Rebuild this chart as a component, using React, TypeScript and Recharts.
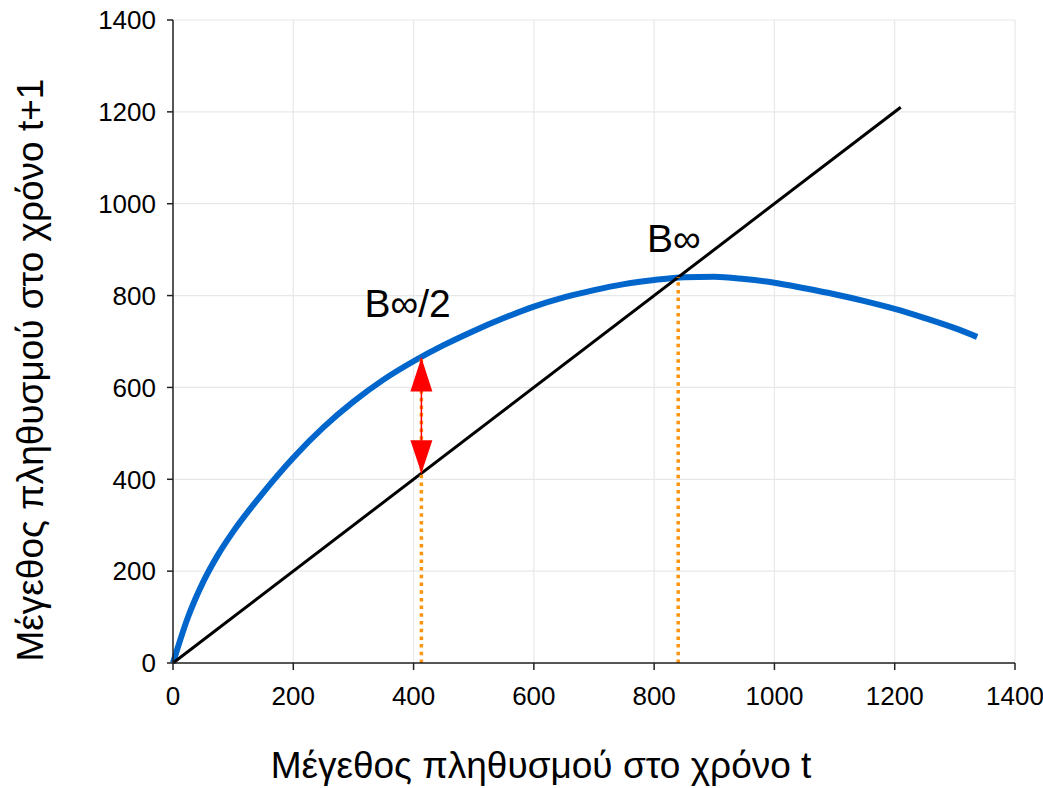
import { CartesianGrid, ComposedChart, Line, ReferenceDot, Scatter, XAxis, YAxis } from "recharts";

// population at time t and the model's population at t+1
const popT = [0, 25, 50, 75, 100, 150, 200, 250, 300, 350, 400, 450, 500, 550, 600, 650, 700, 750, 800, 850, 900, 950, 1000, 1050, 1100, 1150, 1200, 1250, 1300, 1337];
const popT1 = [0, 100, 176, 236, 286, 371, 447, 513, 569, 617, 657, 692, 723, 751, 776, 796, 812, 825, 834, 840, 841, 836, 828, 816, 803, 788, 771, 751, 729, 710];

// y = x reference line
const diagX = [0, 1210];

// half-equilibrium and equilibrium markers
const halfB = 413;
const halfBUpper = 665;
const eqB = 840;

const ticks = [0, 200, 400, 600, 800, 1000, 1200, 1400];

const curveData = popT.map((x, i) => ({ x, y: popT1[i] }));
const diagData = diagX.map(x => ({ x, y: x }));
const halfLine = [{ x: halfB, y: 0 }, { x: halfB, y: halfBUpper }];
const eqLine = [{ x: eqB, y: 0 }, { x: eqB, y: eqB }];
const arrowLine = [{ x: halfB, y: halfB }, { x: halfB, y: halfBUpper }];

const FONT = '"Liberation Sans", Arial, sans-serif';
const ORANGE = '#ff950e';

const UpHead = (p: any) => (
    <polygon points={`${p.cx},${p.cy} ${p.cx - 11},${p.cy + 34} ${p.cx + 11},${p.cy + 34}`} fill="#ff0000"/>
);
const DownHead = (p: any) => (
    <polygon points={`${p.cx},${p.cy} ${p.cx - 11},${p.cy - 33} ${p.cx + 11},${p.cy - 33}`} fill="#ff0000"/>
);

const textShape = (label: string) => (p: any) => (
    <text x={p.cx} y={p.cy} textAnchor="middle" fontSize={39} fontFamily={FONT} fill="#000">{label}</text>
);

export default function App(){

    return(
        <div style={{ position: 'absolute', left: 0, top: 0, background: '#fff' }}>
            <ComposedChart width={1043} height={788} margin={{ top: 20, right: 28, bottom: 0, left: 0 }}>
                <CartesianGrid stroke="#e8e8e8" strokeWidth={1.2} horizontalValues={ticks} verticalValues={ticks}/>
                <XAxis type="number" dataKey="x" domain={[0, 1400]} ticks={ticks} height={125}
                    stroke="#222" strokeWidth={1.5} tickSize={7} tickMargin={17}
                    tick={{ fill: '#000', fontSize: 26, fontFamily: FONT }}
                    label={{ content: () => (
                        <text x={541} y={778} textAnchor="middle" fontSize={37} fontFamily={FONT} fill="#000">Μέγεθος πληθυσμού στο χρόνο t</text>
                    ) }}/>
                <YAxis type="number" dataKey="y" domain={[0, 1400]} ticks={ticks} width={173}
                    stroke="#222" strokeWidth={1.5} tickSize={6} tickMargin={11}
                    tick={{ fill: '#000', fontSize: 26, fontFamily: FONT }}
                    label={{ content: () => (
                        <text transform="rotate(-90)" x={-370} y={43} textAnchor="middle" fontSize={37} fontFamily={FONT} fill="#000">Μέγεθος πληθυσμού στο χρόνο t+1</text>
                    ) }}/>
                <Line data={curveData} dataKey="y" type="monotone" stroke="#0066cc" strokeWidth={6} dot={false} isAnimationActive={false}/>
                <Line data={diagData} dataKey="y" type="linear" stroke="#000" strokeWidth={3} dot={false} isAnimationActive={false}/>
                <Line data={halfLine} dataKey="y" type="linear" stroke={ORANGE} strokeWidth={3.5} strokeDasharray="3.5 4.2" dot={false} isAnimationActive={false}/>
                <Line data={eqLine} dataKey="y" type="linear" stroke={ORANGE} strokeWidth={3.5} strokeDasharray="3.5 4.2" dot={false} isAnimationActive={false}/>
                <Line data={arrowLine} dataKey="y" type="linear" stroke="#ff0000" strokeWidth={1.5} dot={false} isAnimationActive={false}/>
                <Scatter data={[{ x: halfB, y: halfBUpper }]} dataKey="y" shape={UpHead} isAnimationActive={false}/>
                <Scatter data={[{ x: halfB, y: halfB }]} dataKey="y" shape={DownHead} isAnimationActive={false}/>
                <ReferenceDot x={390} y={753} r={0} shape={textShape('B∞/2')}/>
                <ReferenceDot x={833} y={895} r={0} shape={textShape('B∞')}/>
            </ComposedChart>
        </div>
    )
}
